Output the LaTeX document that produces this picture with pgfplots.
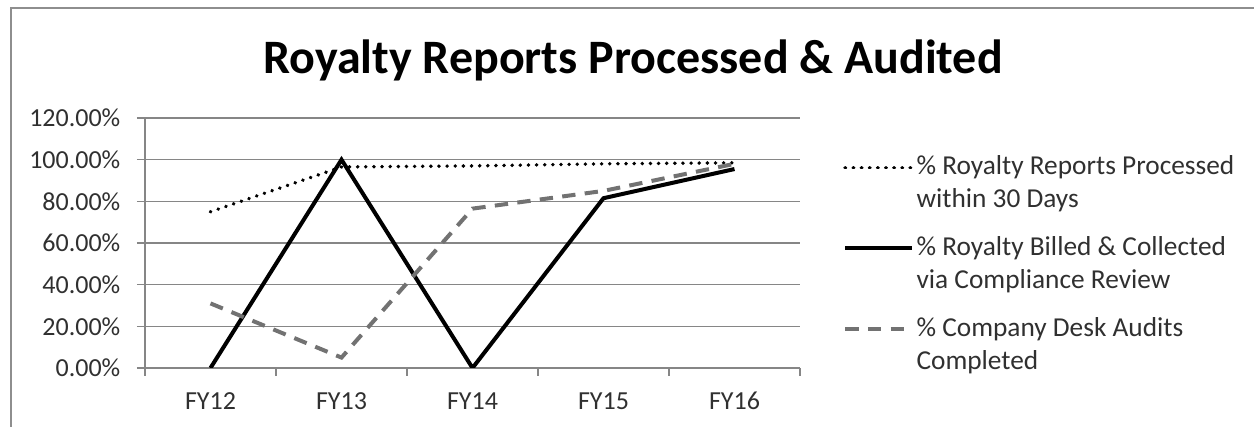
\documentclass[border=0pt]{standalone}
\usepackage{pgfplots}
\pgfplotsset{compat=1.18}
\usepackage{fontspec}
\setmainfont{Carlito}
\definecolor{gridgray}{HTML}{868686}
\definecolor{framegray}{HTML}{8E8E8E}
\definecolor{dashgray}{HTML}{727272}
\definecolor{txt}{HTML}{303030}

\begin{document}
\begin{tikzpicture}
\useasboundingbox (0pt,0pt) rectangle (940.5pt,-320.25pt);
\draw[framegray, line width=0.8pt] (8.25pt,-320.25pt) -- (8.25pt,-6pt) -- (940.5pt,-6pt);
\node[font=\bfseries\fontsize{36}{40}\selectfont, anchor=base] at (474.75pt,-55pt)
  {Royalty Reports Processed \& Audited};
\begin{axis}[
  at={(108.75pt,-276pt)}, anchor=south west,
  scale only axis, width=491.25pt, height=187.5pt,
  xmin=0.5, xmax=5.5, ymin=0, ymax=120,
  axis x line*=bottom, axis y line*=left,
  axis line style={gridgray, line width=0.8pt, -},
  xtick={1,2,3,4,5},
  xticklabels={FY12,FY13,FY14,FY15,FY16},
  minor xtick={0.5,1.5,2.5,3.5,4.5,5.5},
  major x tick style={draw=none},
  minor x tick style={gridgray, line width=0.8pt},
  minor tick length=6pt,
  ytick={0,20,40,60,80,100,120},
  yticklabels={0.00\%,20.00\%,40.00\%,60.00\%,80.00\%,100.00\%,120.00\%},
  y tick style={gridgray, line width=0.8pt},
  major tick length=6pt,
  tick align=outside,
  ymajorgrids,
  major grid style={gridgray, line width=0.8pt},
  tick label style={font=\fontsize{19.5}{23}\selectfont, text=txt},
  yticklabel style={xshift=-9pt},
  xticklabel style={anchor=base, yshift=-25.5pt},
  legend style={draw=none, fill=none, at={(1.0656,0.86)}, anchor=north west,
    inner sep=0pt, row sep=16pt,
    font=\fontsize{20.5}{24.75}\selectfont, text=txt,
    cells={anchor=base west, align=left}},
  legend image code/.code={\draw[#1] (0pt,30.25pt) -- (50pt,30.25pt);},
]
\addplot[black, line width=2.8pt, dash pattern=on 0.1pt off 6pt, line cap=round]
  coordinates {(1,75) (2,96.5) (3,97) (4,98) (5,98.5)};
\addlegendentry{\% Royalty Reports Processed\\within 30 Days}
\addplot[black, line width=3pt]
  coordinates {(1,0) (2,100) (3,0) (4,81.5) (5,95.5)};
\addlegendentry{\% Royalty Billed \& Collected\\via Compliance Review}
\addplot[dashgray, line width=3pt, dash pattern=on 10pt off 7pt]
  coordinates {(1,31) (2,5) (3,76.5) (4,85) (5,98)};
\addlegendentry{\% Company Desk Audits\\Completed}
\end{axis}
\end{tikzpicture}
\end{document}
